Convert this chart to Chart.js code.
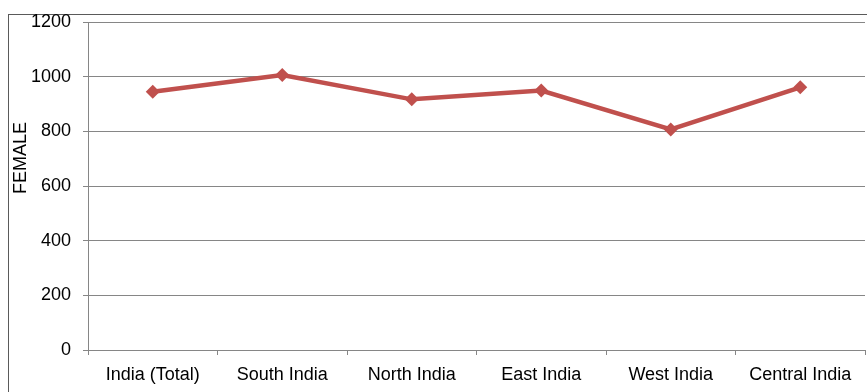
<!DOCTYPE html>
<html><head><meta charset="utf-8">
<script src="https://cdn.jsdelivr.net/npm/chart.js@4"></script>
<style>
html,body{margin:0;padding:0;background:#fff;overflow:hidden}
#frame{position:absolute;left:8px;top:14px;width:900px;height:420px;border:1px solid #5a5a5a;box-sizing:border-box}
#c{position:absolute;left:0;top:0}
</style></head><body>
<div id="frame"></div>
<canvas id="c" width="867" height="392"></canvas>
<script>
const categories = ["India (Total)", "South India", "North India", "East India", "West India", "Central India"];
const femaleValues = [945, 1006, 917, 949, 807, 961];
const yTicks = [0, 200, 400, 600, 800, 1000, 1200];
const yTitle = "FEMALE";

const FONT = "'Liberation Sans', Arial, sans-serif";
const titlePlugin = {
  id: 'ytitle',
  afterDraw(chart) {
    const ctx = chart.ctx;
    ctx.save();
    ctx.font = "18px " + FONT;
    ctx.fillStyle = "#000";
    ctx.textAlign = "center";
    ctx.textBaseline = "middle";
    ctx.translate(21, 158);
    ctx.rotate(-Math.PI / 2);
    ctx.fillText(yTitle, 0, 0);
    ctx.restore();
  }
};

new Chart(document.getElementById('c'), {
  type: 'line',
  data: {
    labels: categories,
    datasets: [{
      label: yTitle,
      data: femaleValues,
      borderColor: '#C0504D',
      backgroundColor: '#C0504D',
      borderWidth: 4.5,
      pointStyle: 'rectRot',
      pointRadius: 7,
      pointHoverRadius: 7,
      pointBorderWidth: 0,
      tension: 0
    }]
  },
  options: {
    responsive: false,
    animation: false,
    events: [],
    layout: { autoPadding: false, padding: { left: 0, right: 2, top: 22, bottom: 0 } },
    plugins: { legend: { display: false }, tooltip: { enabled: false } },
    scales: {
      x: {
        offset: true,
        grid: { offset: true, drawOnChartArea: false, drawTicks: true, tickLength: 5, color: '#868686' },
        border: { color: '#868686', width: 1 },
        ticks: { color: '#000', font: { family: FONT, size: 18 }, padding: 9, maxRotation: 0, autoSkip: false },
        afterFit(s) { s.height = 42; s.paddingLeft = 0; s.paddingRight = 0; }
      },
      y: {
        min: 0, max: 1200,
        afterBuildTicks(s) { s.ticks = yTicks.map(v => ({ value: v })); },
        grid: { color: '#868686', tickLength: 5 },
        border: { color: '#868686', width: 1 },
        ticks: { color: '#000', font: { family: FONT, size: 18 }, padding: 12, callback: v => String(v) },
        afterFit(s) { s.width = 88; s.paddingTop = 0; s.paddingBottom = 0; }
      }
    }
  },
  plugins: [titlePlugin]
});
</script>
</body></html>
